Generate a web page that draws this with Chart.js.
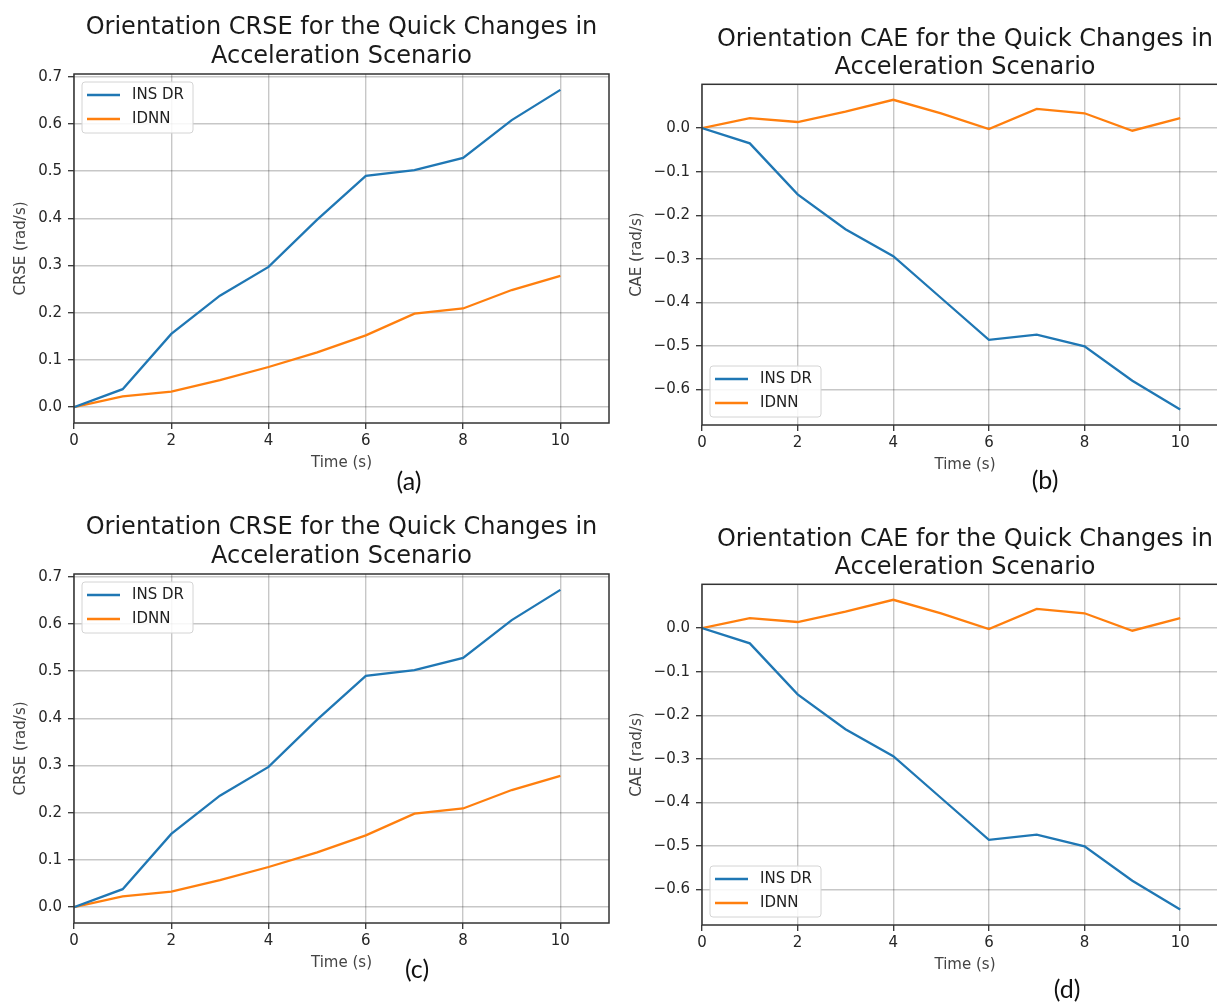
<!DOCTYPE html>
<html>
<head>
<meta charset="utf-8">
<script src="https://cdn.jsdelivr.net/npm/chart.js@4.4.0/dist/chart.umd.min.js"></script>
<style>
    html, body { margin: 0; padding: 0; background: #fff; overflow: hidden; }
    #page { position: relative; width: 1217px; height: 1003px; overflow: hidden; }
    canvas { position: absolute; }
    .tag { position: absolute; font-family: Lato, 'Open Sans', sans-serif; font-size: 25px; color: #111;
           transform: translate(-50%, -50%); }
</style>
</head>
<body>
<div id="page">
    <canvas id="panelA" width="612" height="472" style="left:0;top:0"></canvas>
    <canvas id="panelB" width="620" height="474" style="left:610px;top:0"></canvas>
    <canvas id="panelC" width="612" height="472" style="left:0;top:500px"></canvas>
    <canvas id="panelD" width="620" height="474" style="left:610px;top:500px"></canvas>
    <div class="tag" style="left:409px;top:480px">(a)</div>
    <div class="tag" style="left:1045px;top:479px">(b)</div>
    <div class="tag" style="left:417px;top:968px">(c)</div>
    <div class="tag" style="left:1067px;top:988px">(d)</div>
</div>
<script>
// time axis (s)
const timeSec = [0, 1, 2, 3, 4, 5, 6, 7, 8, 9, 10];

// CRSE (rad/s)
const crseInsDr = [0, 0.038, 0.155, 0.236, 0.297, 0.397, 0.490, 0.502, 0.528, 0.608, 0.672];
const crseIdnn  = [0, 0.023, 0.033, 0.057, 0.085, 0.116, 0.152, 0.198, 0.209, 0.248, 0.278];

// CAE (rad/s)
const caeInsDr = [0, -0.035, -0.152, -0.232, -0.294, -0.390, -0.486, -0.474, -0.501, -0.580, -0.646];
const caeIdnn  = [0, 0.023, 0.014, 0.038, 0.065, 0.034, -0.002, 0.044, 0.034, -0.006, 0.023];

const xTicks = [0, 2, 4, 6, 8, 10];
const crseTicks = [0, 0.1, 0.2, 0.3, 0.4, 0.5, 0.6, 0.7];
const caeTicks = [-0.6, -0.5, -0.4, -0.3, -0.2, -0.1, 0];

const seriesNames = ['INS DR', 'IDNN'];
const seriesColors = ['#1f77b4', '#ff7f0e'];

const crseTitle = ['Orientation CRSE for the Quick Changes in', 'Acceleration Scenario'];
const caeTitle = ['Orientation CAE for the Quick Changes in', 'Acceleration Scenario'];

const family = '"DejaVu Sans", sans-serif';
const gridColor = 'rgba(0, 0, 0, 0.22)';

const fmtTick = (v) => {
    const s = Math.abs(v) < 1e-9 ? '0.0' : v.toFixed(1);
    return s.replace('-', '\u2212');
};

// axes box round the plot area, like matplotlib spines
const framePlugin = {
    id: 'frame',
    afterDraw(chart) {
        const { ctx, chartArea: a } = chart;
        ctx.save();
        ctx.strokeStyle = '#333';
        ctx.lineWidth = 1.5;
        ctx.strokeRect(a.left, a.top, a.right - a.left, a.bottom - a.top);
        ctx.restore();
    }
};

// legend drawn inside the plot area
const boxLegend = {
    id: 'boxLegend',
    afterDatasetsDraw(chart, args, opts) {
        const { ctx, chartArea: a } = chart;
        const w = 111, h = 51;
        const x = a.left + 8;
        const y = opts.corner === 'bottom' ? a.bottom - 8 - h : a.top + 8;
        ctx.save();
        ctx.fillStyle = 'rgba(255,255,255,0.85)';
        ctx.strokeStyle = '#d4d4d4';
        ctx.lineWidth = 1;
        ctx.beginPath();
        ctx.roundRect(x, y, w, h, 3);
        ctx.fill();
        ctx.stroke();
        chart.data.datasets.forEach((ds, i) => {
            const cy = y + 13 + i * 24;
            ctx.strokeStyle = ds.borderColor;
            ctx.lineWidth = 2.3;
            ctx.beginPath();
            ctx.moveTo(x + 5, cy);
            ctx.lineTo(x + 38, cy);
            ctx.stroke();
            ctx.fillStyle = '#222';
            ctx.font = '15px ' + family;
            ctx.textBaseline = 'middle';
            ctx.fillText(ds.label, x + 50, cy);
        });
        ctx.restore();
    }
};

function buildPanel(canvasId, o) {
    const all = o.series.flat();
    const lo = Math.min(...all), hi = Math.max(...all);
    const pad = (hi - lo) * 0.05;
    return new Chart(document.getElementById(canvasId), {
        type: 'line',
        data: {
            datasets: o.series.map((vals, i) => ({
                label: seriesNames[i],
                data: timeSec.map((t, k) => ({ x: t, y: vals[k] })),
                borderColor: seriesColors[i],
                backgroundColor: seriesColors[i],
                borderWidth: 2.3,
                pointRadius: 0,
                tension: 0,
            }))
        },
        options: {
            responsive: false,
            animation: false,
            layout: { padding: { top: 0, right: o.right, bottom: 0, left: 0 } },
            plugins: {
                legend: { display: false },
                tooltip: { enabled: false },
                title: {
                    display: true,
                    text: o.title,
                    fullSize: false,
                    color: '#1a1a1a',
                    font: { family, size: 24, weight: 'normal', lineHeight: 1.2 },
                    padding: { top: o.titleTop, bottom: o.titleBottom },
                },
                boxLegend: { corner: o.legendAt },
            },
            scales: {
                x: {
                    type: 'linear',
                    min: 0,
                    max: 11,
                    afterBuildTicks: (s) => { s.ticks = xTicks.map((v) => ({ value: v })); },
                    afterFit: (s) => { s.height = o.xHeight; },
                    grid: { color: gridColor, lineWidth: 1.4, tickLength: 6, tickColor: '#333', tickWidth: 1.3 },
                    border: { display: false },
                    ticks: { padding: 3, color: '#262626', maxRotation: 0, font: { family, size: 15 },
                             callback: (v) => String(v) },
                    title: { display: true, text: 'Time (s)', color: '#444', padding: 0,
                             font: { family, size: 15 } },
                },
                y: {
                    type: 'linear',
                    min: lo - pad,
                    max: hi + pad,
                    afterBuildTicks: (s) => { s.ticks = o.yTicks.map((v) => ({ value: v })); },
                    afterFit: (s) => { s.width = o.yWidth; },
                    grid: { color: gridColor, lineWidth: 1.4, tickLength: 6, tickColor: '#333', tickWidth: 1.3 },
                    border: { display: false },
                    ticks: { padding: 6, color: '#262626', font: { family, size: 15 }, callback: fmtTick },
                    title: { display: true, text: o.yTitle, color: '#444', padding: { top: o.yTitlePad, bottom: 0 },
                             font: { family, size: 15 } },
                },
            },
        },
        plugins: [framePlugin, boxLegend],
    });
}

const crseOpts = {
    series: [crseInsDr, crseIdnn], yTicks: crseTicks, yTitle: 'CRSE (rad/s)', title: crseTitle,
    yWidth: 74, xHeight: 49, right: 3, titleTop: 13.6, titleBottom: 2.8, yTitlePad: 12, legendAt: 'top'
};
const caeOpts = {
    series: [caeInsDr, caeIdnn], yTicks: caeTicks, yTitle: 'CAE (rad/s)', title: caeTitle,
    yWidth: 92, xHeight: 49, right: 2, titleTop: 25, titleBottom: 1.7, yTitlePad: 18, legendAt: 'bottom'
};

buildPanel('panelA', crseOpts);
buildPanel('panelB', caeOpts);
buildPanel('panelC', crseOpts);
buildPanel('panelD', caeOpts);
</script>
</body>
</html>
